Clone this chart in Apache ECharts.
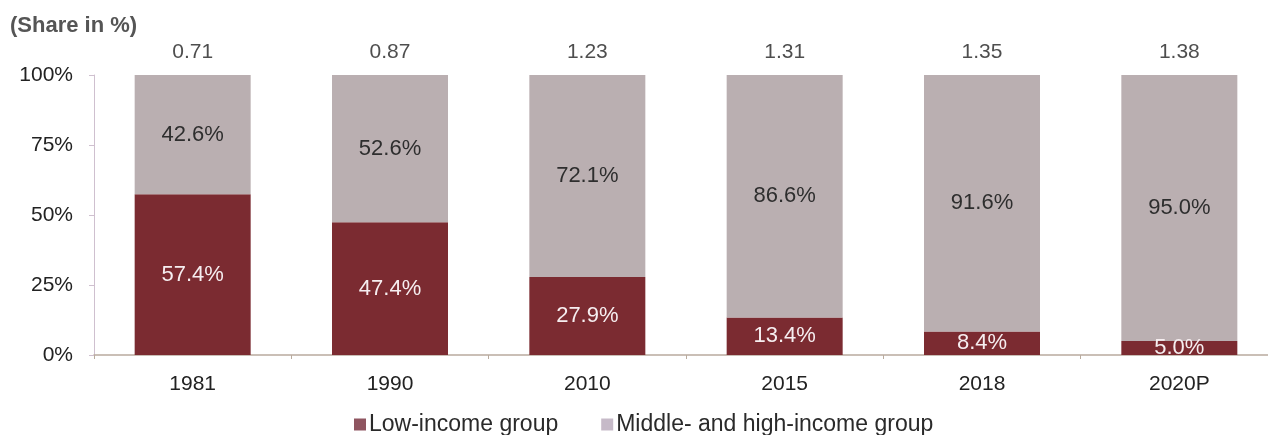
<!DOCTYPE html>
<html>
<head>
<meta charset="utf-8">
<script src="https://cdn.jsdelivr.net/npm/echarts@6/dist/echarts.min.js"></script>
<style>
  html, body { margin: 0; padding: 0; background: #fff; overflow: hidden; }
  #chart { width: 1290px; height: 435px; }
</style>
</head>
<body>
<div id="chart"></div>
<script>
// Income group shares by year
const years = ['1981', '1990', '2010', '2015', '2018', '2020P'];
const lowIncome = [57.4, 47.4, 27.9, 13.4, 8.4, 5.0];
const midHighIncome = [42.6, 52.6, 72.1, 86.6, 91.6, 95.0];
const ratioLabels = ['0.71', '0.87', '1.23', '1.31', '1.35', '1.38'];
const yTicks = [0, 25, 50, 75, 100];

const FONT = '"Liberation Sans", Arial, sans-serif';
const chart = echarts.init(document.getElementById('chart'), null, { renderer: 'canvas' });

chart.setOption({
  animation: false,
  textStyle: { fontFamily: FONT },
  title: {
    text: '(Share in %)',
    left: 5, top: 10,
    textStyle: { fontFamily: FONT, fontSize: 22, fontWeight: 'bold', color: '#555' }
  },
  legend: {
    bottom: -6, left: 349,
    itemWidth: 12, itemHeight: 12, itemGap: 43,
    icon: 'rect',
    textStyle: { fontFamily: FONT, fontSize: 23, color: '#2a2a2a', padding: [0, 0, 0, -2] },
    data: [
      { name: 'Low-income group', itemStyle: { color: '#8f5560' } },
      { name: 'Middle- and high-income group', itemStyle: { color: '#c6bac8' } }
    ]
  },
  grid: { left: 94, top: 75, width: 1184, bottom: 80, containLabel: false },
  xAxis: {
    type: 'category',
    data: years,
    boundaryGap: true,
    axisLine: { lineStyle: { color: '#b9ab9e', width: 1.5 } },
    axisTick: { show: true, length: 4, lineStyle: { color: '#b9ab9e' } },
    axisLabel: { fontFamily: FONT, fontSize: 21, color: '#222', margin: 19 }
  },
  yAxis: {
    type: 'value',
    min: yTicks[0], max: yTicks[yTicks.length - 1], interval: 25,
    axisLine: { show: true, lineStyle: { color: '#cfc0cf', width: 1 } },
    axisTick: { show: true, length: 5, lineStyle: { color: '#cfc0cf' } },
    splitLine: { show: false },
    axisLabel: { fontFamily: FONT, fontSize: 21, color: '#222', margin: 21, formatter: v => v + '%' }
  },
  series: [
    {
      name: 'Low-income group',
      type: 'bar',
      stack: 'share',
      barWidth: 116,
      data: lowIncome,
      itemStyle: { color: '#7b2b31' },
      label: {
        show: true, position: 'inside',
        fontFamily: FONT, fontSize: 22, color: '#f6eef0',
        formatter: p => p.value.toFixed(1) + '%'
      }
    },
    {
      name: 'Middle- and high-income group',
      type: 'bar',
      stack: 'share',
      barWidth: 116,
      data: midHighIncome,
      itemStyle: { color: '#baafb1' },
      label: {
        show: true, position: 'inside',
        fontFamily: FONT, fontSize: 22, color: '#2e2e2e',
        formatter: p => p.value.toFixed(1) + '%'
      }
    },
    {
      name: 'ratio',
      type: 'scatter',
      symbolSize: 0,
      silent: true,
      data: years.map(() => yTicks[yTicks.length - 1]),
      label: {
        show: true, position: 'top', distance: 12,
        fontFamily: FONT, fontSize: 21, color: '#222',
        formatter: p => ratioLabels[p.dataIndex]
      }
    }
  ]
});
</script>
</body>
</html>
